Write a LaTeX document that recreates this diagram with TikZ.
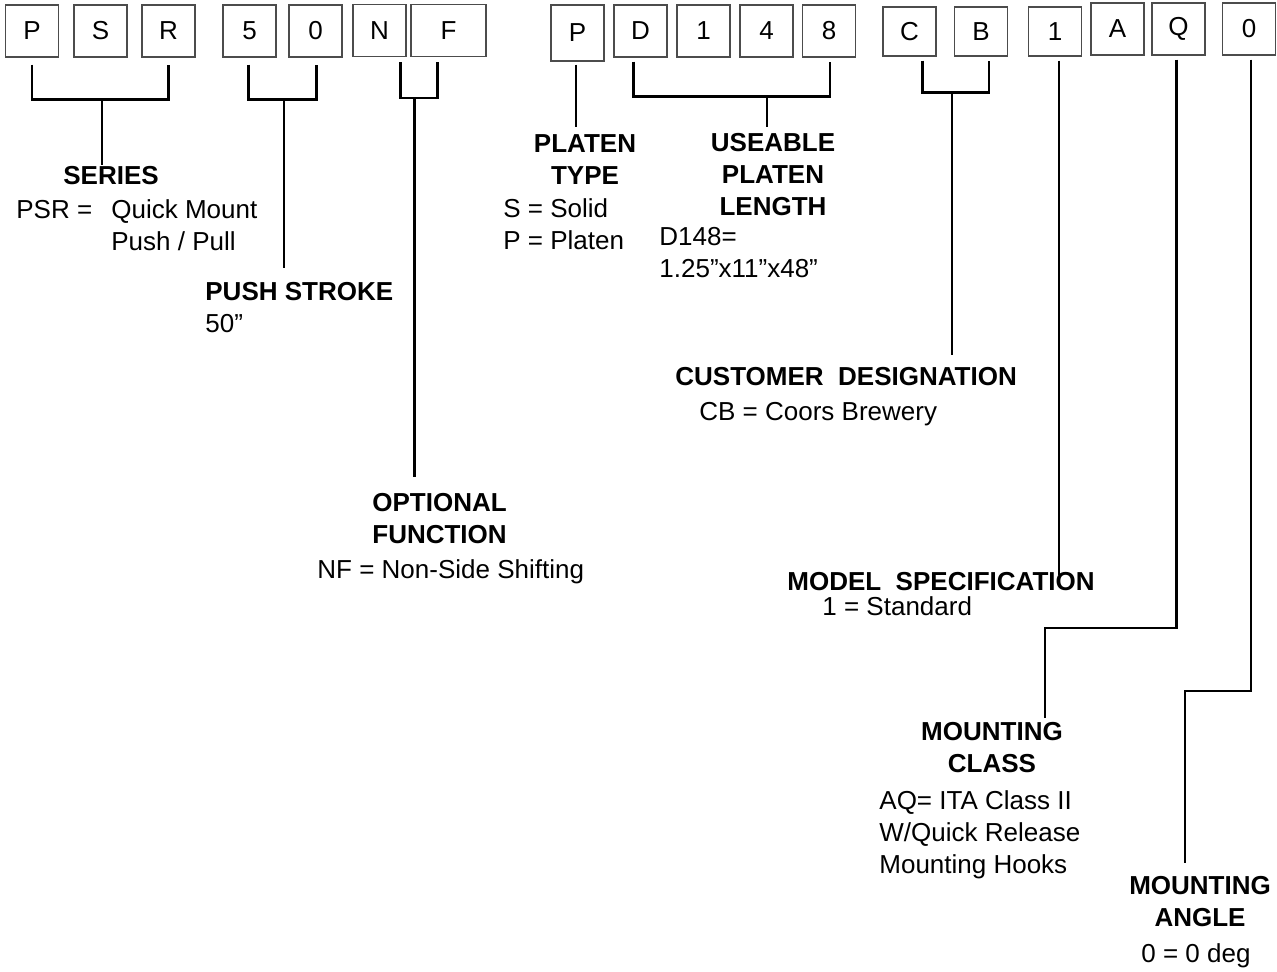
\documentclass[tikz,border=0pt]{standalone}
\usepackage{fontspec}
\setmainfont{Liberation Sans}
\usetikzlibrary{calc}

\begin{document}
\begin{tikzpicture}[
    x=0.5pt, y=-0.5pt,
    every node/.style={font=\fontsize{13}{16}\selectfont, inner sep=0pt, text=black},
    cell/.style={draw=black!70, line width=0.6pt, minimum width=26.5pt, minimum height=26pt},
    head/.style={font=\fontsize{13}{16}\selectfont\bfseries},
    lead/.style={line width=1.3pt}
]

    \useasboundingbox (0,0) rectangle (1277,971);

    % --- CODE BOXES ---
    \node[cell] (b1) at (32,31) {P};
    \node[cell] (b2) at (100.5,31) {S};
    \node[cell] (b3) at (168.5,31) {R};
    \node[cell] (b4) at (249.5,31) {5};
    \node[cell] (b5) at (315.5,31) {0};
    \node[cell] (b6) at (379.5,30.5) {N};
    \node[cell, minimum width=37.5pt] (b7) at (448.5,30.5) {F};
    \node[cell, minimum height=28pt] (b8) at (577.5,33) {P};
    \node[cell] (b9) at (640.5,31) {D};
    \node[cell] (b10) at (703.5,31) {1};
    \node[cell] (b11) at (766.5,31) {4};
    \node[cell] (b12) at (829,31) {8};
    \node[cell, minimum height=24.5pt] (b13) at (909.5,31.5) {C};
    \node[cell, minimum height=24.5pt, text depth=-2pt] (b14) at (981,31.5) {B};
    \node[cell, minimum height=24.5pt, text depth=-2pt] (b15) at (1055,31.5) {1};
    \node[cell] (b16) at (1117.5,29) {A};
    \node[cell] (b17) at (1178.5,29) {Q};
    \node[cell] (b18) at (1249,29) {0};

    % --- HEADINGS AND MEANINGS ---
    \node[head, anchor=base west] (series) at (63,184) {SERIES};
    \node[anchor=base west] (serieskey) at (16,218) {PSR =};
    \node[anchor=north west, align=left] (seriesdesc) at (111,199) {Quick Mount\\Push / Pull};

    \node[head, anchor=base west] (stroke) at (205,300) {PUSH STROKE};
    \node[anchor=base west] (strokedesc) at (205,332) {50”};

    \node[head, anchor=north west, align=left] (optfn) at (372,493) {OPTIONAL\\FUNCTION};
    \node[anchor=base west] (optdesc) at (317,578) {NF = Non-Side Shifting};

    \node[head, anchor=north, align=center] (ptype) at (585,134) {PLATEN\\TYPE};
    \node[anchor=north west, align=left] (ptypedesc) at (503,198) {S = Solid\\P = Platen};

    \node[head, anchor=north, align=center] (plength) at (773,133) {USEABLE\\PLATEN\\LENGTH};
    \node[anchor=north west, align=left] (plengthdesc) at (659,227) {D148=\\1.25”x11”x48”};

    \node[head, anchor=base west] (custdes) at (675,385) {CUSTOMER~~DESIGNATION};
    \node[anchor=base west] (custdesc) at (699,420) {CB = Coors Brewery};

    \node[head, anchor=base west] (modelspec) at (787,590) {MODEL~~SPECIFICATION};
    \node[anchor=base west] (modeldesc) at (822,615) {1 = Standard};

    \node[head, anchor=north, align=center] (mclass) at (992,722) {MOUNTING\\CLASS};
    \node[anchor=north west, align=left] (mclassdesc) at (879,790) {AQ= ITA Class II\\W/Quick Release\\Mounting Hooks};

    \node[head, anchor=north, align=center] (mangle) at (1200,876) {MOUNTING\\ANGLE};
    \node[anchor=base west] (mangledesc) at (1141,962) {0 = 0 deg};

    % --- BRACKETS ---
    \draw[lead] ($(b1.south)+(0,7)$) |- ($(b3.south)+(0,42)$) -- ($(b3.south)+(0,7)$);
    \draw[lead] ($(b4.south)+(-1,7)$) |- ($(b5.south)+(1,42)$) -- ($(b5.south)+(1,7)$);
    \draw[lead] ($(b6.south east)+(-6,5)$) |- ($(b7.south west)+(27,41)$) -- ($(b7.south west)+(27,5)$);
    \draw[lead] ($(b9.south)+(-7,4)$) |- ($(b12.south)+(1,39)$) -- ($(b12.south)+(1,4)$);
    \draw[lead] ($(b13.south)+(13,4)$) |- ($(b14.south)+(8,36)$) -- ($(b14.south)+(8,4)$);

    % Stems
    \coordinate (psrmid) at ($(b2.south)+(1.5,42)$);
    \draw[lead] (psrmid) -- (psrmid |- series.north);

    \coordinate (strokemid) at ($(b4.south)!0.5!(b5.south)+(1.5,42)$);
    \draw[lead, shorten >=6.5pt] (strokemid) -- (strokemid |- stroke.north);

    \coordinate (nfmid) at ($(b7.south west)+(4,41)$);
    \draw[lead, shorten >=8pt] (nfmid) -- (nfmid |- optfn.north);

    \coordinate (ptop) at ($(b8.south)+(-1.5,3)$);
    \draw[lead, shorten >=3.5pt] (ptop) -- (ptop |- ptype.north);

    \coordinate (dmid) at ($(b11.south)+(0.5,39)$);
    \draw[lead, shorten >=3pt] (dmid) -- (dmid |- plength.north);

    \coordinate (cbmid) at ($(b13.south)+(42.5,36)$);
    \draw[lead, shorten >=5.5pt] (cbmid) -- (cbmid |- custdes.north);

    \coordinate (onetop) at ($(b15.south)+(4,4)$);
    \draw[lead, shorten >=-2pt] (onetop) -- (onetop |- modelspec.north);

    \coordinate (qknee) at (1045,628);
    \draw[lead, shorten >=2pt] ($(b17.south)+(-2,4)$) |- (qknee) -- (qknee |- mclass.north);

    \coordinate (zknee) at (1185,691);
    \draw[lead, shorten >=6.5pt] ($(b18.south)+(2,4)$) |- (zknee) -- (zknee |- mangle.north);

\end{tikzpicture}
\end{document}
